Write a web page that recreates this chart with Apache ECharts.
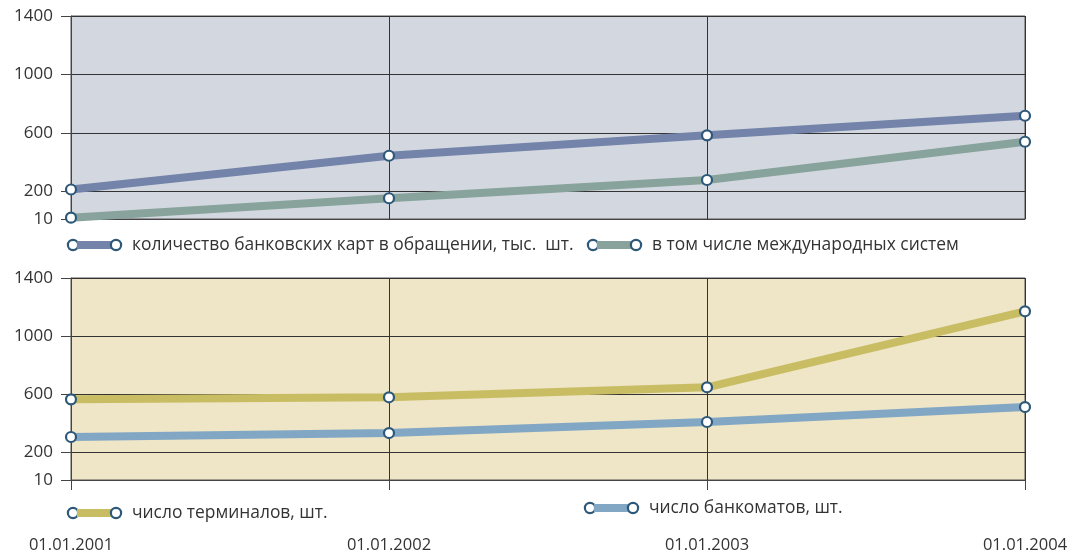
<!DOCTYPE html>
<html>
<head>
<meta charset="utf-8">
<script src="https://cdn.jsdelivr.net/npm/echarts@6/dist/echarts.min.js"></script>
<style>
  html, body { margin: 0; padding: 0; background: #fff; }
  #chart { width: 1087px; height: 558px; }
</style>
</head>
<body>
<div id="chart"></div>
<script>
const dates = ['01.01.2001', '01.01.2002', '01.01.2003', '01.01.2004']
const yTicks = [10, 200, 600, 1000, 1400]

// верхний график
const cards = [212, 443, 583, 717]
const cardsIntl = [19, 152, 277, 539]
// нижний график
const terminals = [565, 579, 648, 1171]
const atms = [306, 333, 409, 512]

const names = [
  'количество банковских карт в обращении, тыс.  шт.',
  'в том числе международных систем',
  'число терминалов, шт.',
  'число банкоматов, шт.',
]
const colors = ['#7383a9', '#88a39b', '#c9bd64', '#81a7c4']
const markerBorder = '#2d5879'
const font = '"Open Sans", "Noto Sans", sans-serif'

const chart = echarts.init(document.getElementById('chart'), null, { devicePixelRatio: 1 })

const makeY = (gridIndex) => ({
  type: 'value',
  gridIndex,
  min: 10,
  max: 1400,
  axisLine: { show: true, lineStyle: { color: '#444', width: 1 } },
  axisTick: { show: true, length: 10, customValues: yTicks, lineStyle: { color: '#444' } },
  axisLabel: {
    customValues: yTicks,
    formatter: (v) => String(v),
    fontFamily: font, fontSize: 17, color: '#333', margin: 18,
  },
  splitLine: { show: true, lineStyle: { color: '#333', width: 1 } },
})

const makeSeries = (i, data, idx) => ({
  name: names[i],
  type: 'line',
  xAxisIndex: idx,
  yAxisIndex: idx,
  data,
  symbol: 'circle',
  symbolSize: 10,
  lineStyle: { color: colors[i], width: 8 },
  itemStyle: { color: '#fff', borderColor: markerBorder, borderWidth: 2.2 },
  z: 3,
  animation: false,
})

const makeLegend = (i, left, top) => ({
  data: [names[i]],
  left,
  top,
  padding: 0,
  itemWidth: 0,
  itemHeight: 0,
  icon: 'rect',
  itemStyle: { opacity: 0 },
  selectedMode: false,
  formatter: (n) => '{c|}{b|}{c|}{g|}' + n,
  textStyle: {
    fontFamily: font,
    fontSize: 17.4,
    color: '#333',
    lineHeight: 20,
    rich: {
      c: { width: 8, height: 8, borderRadius: 6, borderWidth: 2.2, borderColor: markerBorder, backgroundColor: '#fff' },
      b: { width: 35, height: 8, backgroundColor: colors[i] },
      g: { width: 12 },
    },
  },
})

chart.setOption({
  backgroundColor: '#fff',
  animation: false,
  grid: [
    { left: 71, right: 62, top: 16, height: 203, show: true, backgroundColor: '#d3d8e0', borderColor: '#555', borderWidth: 1 },
    { left: 71, right: 62, top: 278, height: 202, show: true, backgroundColor: '#efe5c7', borderColor: '#555', borderWidth: 1 },
  ],
  xAxis: [
    {
      type: 'category', gridIndex: 0, data: dates, boundaryGap: false,
      axisLine: { show: true, lineStyle: { color: '#444' } },
      axisTick: { show: false },
      axisLabel: { show: false },
      splitLine: { show: true, lineStyle: { color: '#333', width: 1 } },
    },
    {
      type: 'category', gridIndex: 1, data: dates, boundaryGap: false,
      axisLine: { show: true, lineStyle: { color: '#444' } },
      axisTick: { show: true, length: 10, lineStyle: { color: '#444' } },
      axisLabel: { fontFamily: font, fontSize: 16.5, color: '#333', margin: 57, showMinLabel: true, showMaxLabel: true },
      splitLine: { show: true, lineStyle: { color: '#333', width: 1 } },
    },
  ],
  yAxis: [makeY(0), makeY(1)],
  legend: [
    makeLegend(0, 63, 235),
    makeLegend(1, 583, 235),
    makeLegend(2, 63, 503),
    makeLegend(3, 580, 498),
  ],
  series: [
    makeSeries(0, cards, 0),
    makeSeries(1, cardsIntl, 0),
    makeSeries(2, terminals, 1),
    makeSeries(3, atms, 1),
  ],
})

window.addEventListener('resize', () => {
  chart.resize()
})
</script>
</body>
</html>
